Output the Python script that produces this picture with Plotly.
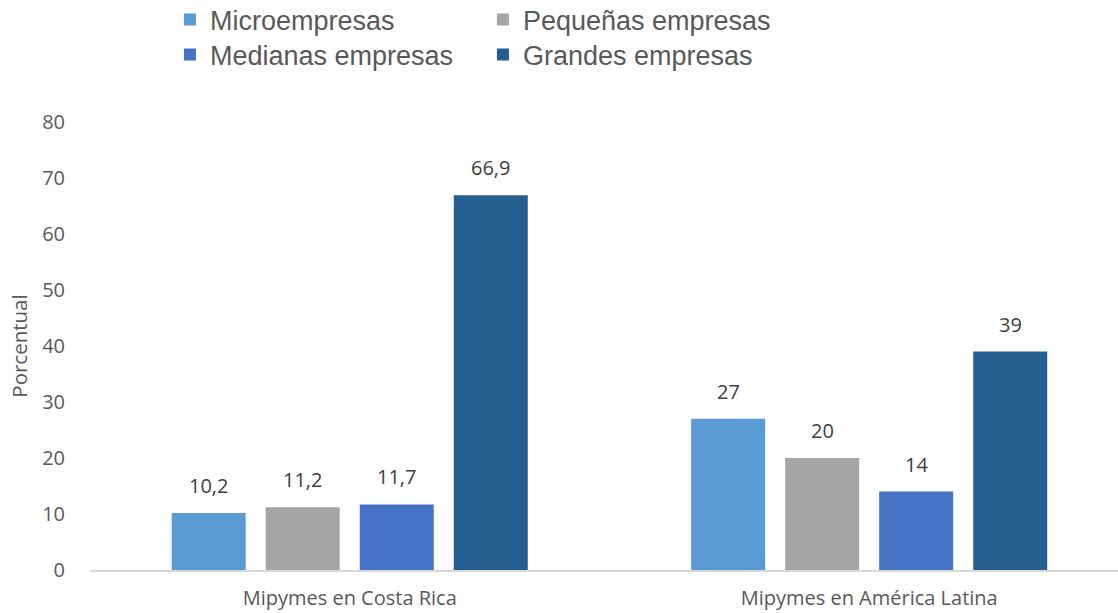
import plotly.graph_objects as go

categories = ["Mipymes en Costa Rica", "Mipymes en América Latina"]
series_names = ["Microempresas", "Pequeñas empresas", "Medianas empresas", "Grandes empresas"]
micro = [10.2, 27]
pequenas = [11.2, 20]
medianas = [11.7, 14]
grandes = [66.9, 39]
y_ticks = [0, 10, 20, 30, 40, 50, 60, 70, 80]

series_values = [micro, pequenas, medianas, grandes]
colors = ["#5B9BD5", "#A5A5A5", "#4472C4", "#255E91"]
legend_ids = ["legend", "legend", "legend2", "legend2"]


def fmt(v):
    s = f"{v:g}"
    return s.replace(".", ",")


x_pos = list(range(len(categories)))

fig = go.Figure()
for name, vals, col, lg in zip(series_names, series_values, colors, legend_ids):
    fig.add_trace(go.Bar(
        x=x_pos, y=vals, name=name, legend=lg,
        marker=dict(color=col, line=dict(width=0)),
    ))

# value labels above each bar
n = len(series_names)
slot_px = 94
for i, vals in enumerate(series_values):
    for xi, v in zip(x_pos, vals):
        fig.add_annotation(
            x=xi, y=v, text=fmt(v), showarrow=False,
            xshift=(i - (n - 1) / 2) * slot_px, yshift=12, yanchor="bottom",
            font=dict(family="Open Sans", size=20, color="#404040"),
        )

legend_common = dict(
    orientation="h", xref="container", yref="container",
    xanchor="left", yanchor="middle",
    font=dict(family="Liberation Sans", size=27, color="#595959"),
    entrywidth=268, entrywidthmode="pixels",
    bgcolor="rgba(0,0,0,0)", itemclick=False,
    tracegroupgap=0,
)

fig.update_layout(
    width=1118, height=613,
    margin=dict(l=90, r=0, t=122, b=43),
    paper_bgcolor="white", plot_bgcolor="white",
    barmode="group", bargap=0.276, bargroupgap=0.213,
    showlegend=True,
    legend=dict(x=0.152, y=1 - 20 / 613, **legend_common),
    legend2=dict(x=0.152, y=1 - 55 / 613, **legend_common),
    xaxis=dict(
        tickmode="array", tickvals=x_pos, ticktext=categories,
        range=[-0.5, 1.479], showgrid=False, zeroline=False,
        showline=True, linecolor="#D9D9D9", linewidth=1.5,
        ticks="", ticklabelstandoff=9, automargin=False,
        tickfont=dict(family="Open Sans", size=20, color="#595959"),
    ),
    yaxis=dict(
        range=[0, 80], tickvals=y_ticks, showgrid=False, zeroline=False,
        showline=False, ticks="", ticklabelstandoff=24, automargin=False,
        tickfont=dict(family="Open Sans", size=20, color="#595959"),
        title=dict(text="Porcentual", standoff=8,
                   font=dict(family="Open Sans", size=20.5, color="#595959")),
    ),
)

fig.write_html("out.html")
